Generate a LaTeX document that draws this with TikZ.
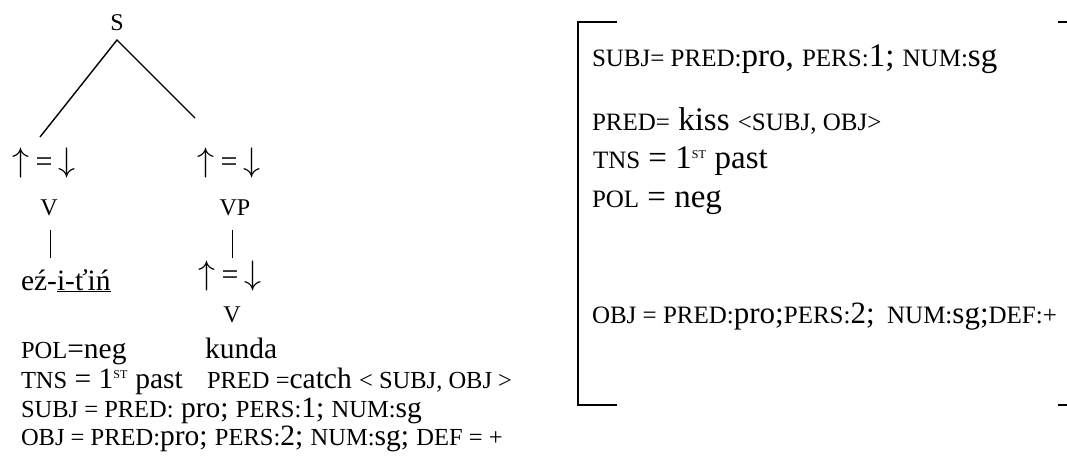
\documentclass[tikz,border=0pt]{standalone}
\usepackage{graphicx}
\usepackage{fontspec}
\setmainfont{Liberation Serif}
\newcommand{\sz}{\fontsize{24.5}{28}\selectfont}
\newcommand{\bz}{\fontsize{29.5}{32}\selectfont}
\newcommand{\rsz}{\fontsize{25}{28}\selectfont}
\newcommand{\rbz}{\fontsize{33}{36}\selectfont}
\newcommand{\stz}{\textsuperscript{\fontsize{12}{12}\selectfont ST}}
\newcommand{\arrup}{\scalebox{3.4}{\fontsize{10}{12}\selectfont$\uparrow$}}
\newcommand{\arrdn}{\scalebox{3.4}{\fontsize{10}{12}\selectfont$\downarrow$}}
\newcommand{\ueq}{\arrup\hspace{6pt}{\fontsize{30}{32}\selectfont =}\hspace{6pt}\arrdn}
\begin{document}
\begin{tikzpicture}[x=1pt,y=-1pt,
  every node/.style={inner sep=0pt, outer sep=0pt, font=\bz},
  txt/.style={anchor=base west},
  rtxt/.style={anchor=base west, font=\rbz},
  cat/.style={anchor=base, font=\fontsize{24}{28}\selectfont},
  arr/.style={anchor=center},
  ln/.style={line width=1.4pt}]
\useasboundingbox (0,0) rectangle (1067,459);
% tree
\node[cat] (S) at (117,30) {S};
\node[arr] (a1) at (44,163) {\ueq};
\node[arr] (a2) at (229,163) {\ueq};
\node[cat] (V1) at (49,215) {V};
\node[cat] (VP) at (235,215) {VP};
\node[txt] (w1) at (21,290) {eź-\underline{i-ťiń}};
\node[arr] (a3) at (230,276) {\ueq};
\node[cat] (V2) at (232,322) {V};
\node[txt] (pol) at (21,358) {{\sz POL}=neg};
\node[txt] (kun) at (205,358) {kunda};
\node[txt] (tns) at (21,388) {{\sz TNS} = 1\stz{} past};
\node[txt] (pred) at (207,388) {{\sz PRED =}catch {\sz < SUBJ, OBJ >}};
\node[txt] (subj) at (21,417) {{\sz SUBJ = PRED:} pro; {\sz PERS:}1; {\sz NUM:}sg};
\node[txt] (obj) at (21,445) {{\sz OBJ = PRED:}pro; {\sz PERS:}2; {\sz NUM:}sg; {\sz DEF = +}};
\coordinate (top) at (117,40);
\coordinate (le) at (40,137);
\coordinate (re) at (195,118);
\draw[ln] (le) -- (top) -- (re);
\coordinate (b1) at (50,230);
\coordinate (b2) at (232,230);
\draw[line width=1pt] (b1) -- ++(0,28);
\draw[line width=1pt] (b2) -- ++(0,28);
% f-structure
\coordinate (tl) at (578,22);
\coordinate (bl) at (578,405);
\draw[ln] (617,22) -- (tl) -- (bl) -- (617,405);
\draw[ln] (1058,22) -- (1067,22);
\draw[ln] (1058,405) -- (1067,405);
\node[rtxt] (f1) at (592,66) {{\rsz SUBJ= PRED:}pro, {\rsz PERS:}1; {\rsz NUM:}sg};
\node[rtxt] (f2) at (592,130) {{\rsz PRED=} kiss {\rsz <SUBJ, OBJ>}};
\node[rtxt] (f3) at (593,168) {{\rsz TNS} = 1\stz{} past};
\node[rtxt] (f4) at (592,207) {{\rsz POL} = neg};
\node[rtxt, font=\fontsize{31}{34}\selectfont] (f5) at (592,323) {{\rsz OBJ = PRED:}pro;{\rsz PERS:}2;{\rsz\ \ NUM:}sg;{\rsz DEF:+}};
\end{tikzpicture}
\end{document}
